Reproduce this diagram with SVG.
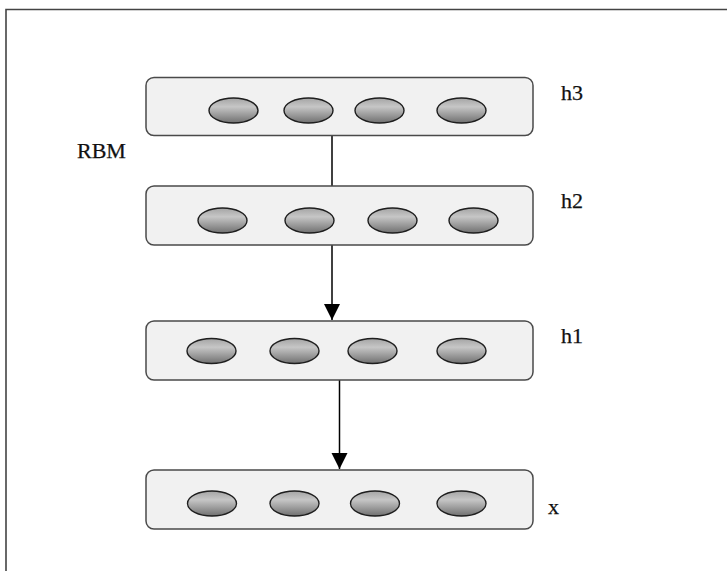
<svg xmlns="http://www.w3.org/2000/svg" width="727" height="571" viewBox="0 0 727 571">
  <style>
    .layer { fill: #f1f1f1; stroke: #4a4a4a; stroke-width: 1.5; }
    .unit { fill: url(#unitFill); stroke: #1e1e1e; stroke-width: 1.4; }
    .label { font-family: "Liberation Serif", "Times New Roman", serif; font-size: 22px; fill: #111; stroke: #111; stroke-width: 0.25; }
    .edge { stroke: #000; stroke-width: 1.5; fill: none; }
  </style>
  <defs>
    <linearGradient id="unitFill" x1="0" y1="0" x2="0" y2="1">
      <stop offset="0" stop-color="#a4a4a4"/>
      <stop offset="0.35" stop-color="#c6c6c6"/>
      <stop offset="1" stop-color="#707070"/>
    </linearGradient>
    <marker id="arrow" markerWidth="16" markerHeight="18" refX="16" refY="8" orient="auto" markerUnits="userSpaceOnUse">
      <path d="M0,0 L16,8 L0,16 Z" fill="#000"/>
    </marker>
  </defs>

  <rect width="727" height="571" fill="#fff"/>
  <!-- page frame -->
  <path d="M6,572 V9.5 H728" fill="none" stroke="#444" stroke-width="1.6"/>

  <g id="connectors">
    <line class="edge" x1="332" y1="136" x2="332" y2="186"/>
    <line class="edge" x1="332" y1="245" x2="332" y2="320" marker-end="url(#arrow)"/>
    <line class="edge" x1="339.5" y1="380" x2="339.5" y2="469" marker-end="url(#arrow)"/>
  </g>

  <g id="layer-h3">
    <rect class="layer" x="146" y="77.5" width="387" height="58" rx="8"/>
    <ellipse class="unit" cx="233.5" cy="110.5" rx="24.5" ry="12.5"/>
    <ellipse class="unit" cx="308.5" cy="110.5" rx="24.5" ry="12.5"/>
    <ellipse class="unit" cx="379.5" cy="110.5" rx="24.5" ry="12.5"/>
    <ellipse class="unit" cx="461.5" cy="110.5" rx="24.5" ry="12.5"/>
    <text class="label" x="561" y="100">h3</text>
  </g>

  <g id="rbm-label">
    <text class="label" x="77" y="158">RBM</text>
  </g>

  <g id="layer-h2">
    <rect class="layer" x="146" y="186" width="387" height="59" rx="8"/>
    <ellipse class="unit" cx="222.5" cy="220.5" rx="24.5" ry="12.5"/>
    <ellipse class="unit" cx="309.5" cy="220.5" rx="24.5" ry="12.5"/>
    <ellipse class="unit" cx="392.5" cy="220.5" rx="24.5" ry="12.5"/>
    <ellipse class="unit" cx="473.5" cy="220.5" rx="24.5" ry="12.5"/>
    <text class="label" x="561" y="208">h2</text>
  </g>

  <g id="layer-h1">
    <rect class="layer" x="146" y="321" width="387" height="59" rx="8"/>
    <ellipse class="unit" cx="211.5" cy="351" rx="24.5" ry="12.5"/>
    <ellipse class="unit" cx="294.5" cy="351" rx="24.5" ry="12.5"/>
    <ellipse class="unit" cx="372.5" cy="351" rx="24.5" ry="12.5"/>
    <ellipse class="unit" cx="461.5" cy="351" rx="24.5" ry="12.5"/>
    <text class="label" x="561" y="343">h1</text>
  </g>

  <g id="layer-x">
    <rect class="layer" x="146" y="470" width="387" height="59" rx="8"/>
    <ellipse class="unit" cx="212" cy="503.5" rx="24.5" ry="12.5"/>
    <ellipse class="unit" cx="294.5" cy="503.5" rx="24.5" ry="12.5"/>
    <ellipse class="unit" cx="375" cy="503.5" rx="24.5" ry="12.5"/>
    <ellipse class="unit" cx="461.5" cy="503.5" rx="24.5" ry="12.5"/>
    <text class="label" x="548" y="514">x</text>
  </g>
</svg>
